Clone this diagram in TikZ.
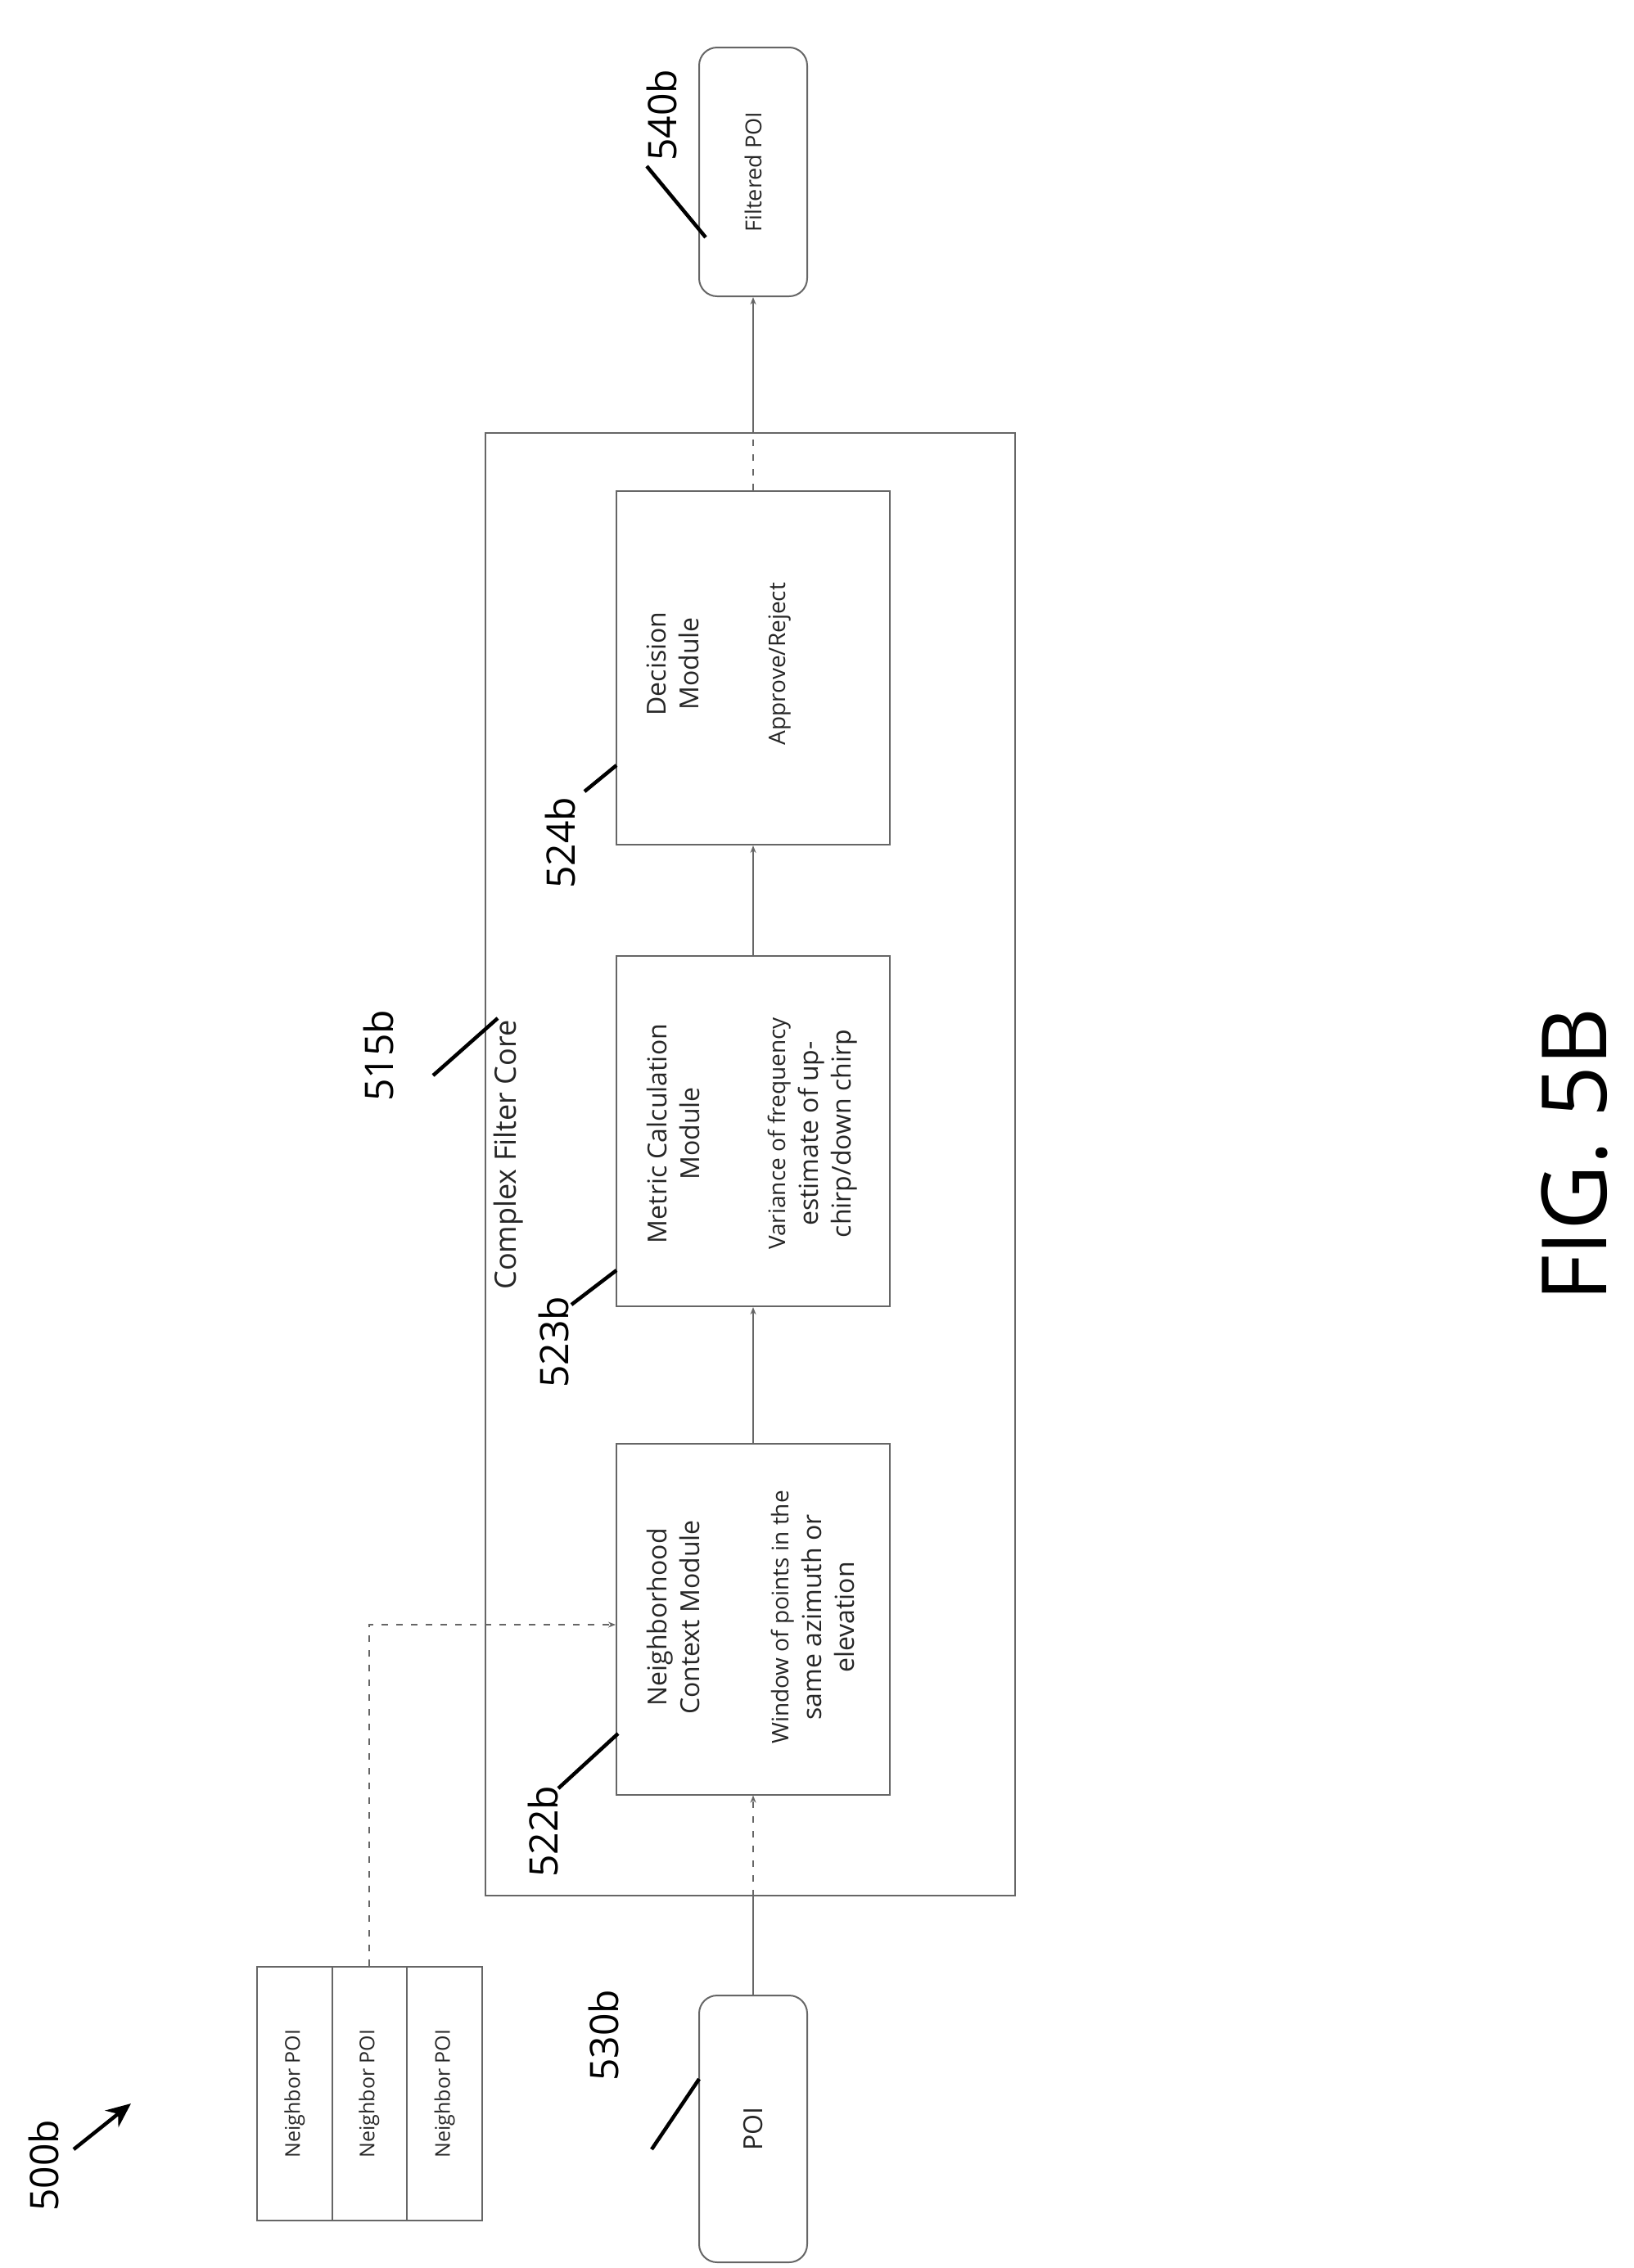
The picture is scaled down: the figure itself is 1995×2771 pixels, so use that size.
\documentclass[tikz,border=0pt]{standalone}
\usepackage{fontspec}
\setmainfont{Open Sans}
\usetikzlibrary{arrows.meta}
\begin{document}
\begin{tikzpicture}[x=1pt,y=-1pt,
  ln/.style={draw=black!60,line width=2pt},
  box/.style={ln,rectangle,inner sep=0pt},
  rbox/.style={ln,rectangle,rounded corners=22pt,inner sep=0pt},
  arr/.style={ln,-{Stealth[length=9pt,width=7pt]}},
  dsh/.style={dash pattern=on 8pt off 10pt},
  txt/.style={rotate=90,align=center,font=\fontsize{32}{40}\selectfont,text=black!85},
  lab/.style={rotate=90,font=\fontsize{48}{52}\selectfont},
  lead/.style={draw=black,line width=4.5pt}]
\useasboundingbox (0,0) rectangle (1995,2771);
% boxes
\node[box,minimum width=647pt,minimum height=1787pt] (core) at (916,1422) {};
\node[box,minimum width=334pt,minimum height=432pt] (dec) at (920,816) {};
\node[box,minimum width=334pt,minimum height=428pt] (met) at (920,1382) {};
\node[box,minimum width=334pt,minimum height=429pt] (nei) at (920,1978) {};
\node[rbox,minimum width=132pt,minimum height=304pt] (fpoi) at (920,210) {};
\node[rbox,minimum width=132pt,minimum height=326pt] (poi) at (920,2601) {};
\node[box,minimum width=92pt,minimum height=310pt] (n1) at (360,2558) {};
\node[box,minimum width=91pt,minimum height=310pt] (n2) at (451,2558) {};
\node[box,minimum width=92pt,minimum height=310pt] (n3) at (543,2558) {};
% texts
\node[txt] (t1) at (n1) {\fontsize{25}{28}\selectfont Neighbor POI};
\node[txt] (t2) at (n2) {\fontsize{25}{28}\selectfont Neighbor POI};
\node[txt] (t3) at (n3) {\fontsize{25}{28}\selectfont Neighbor POI};
\node[txt] (tp) at (poi) {POI};
\node[txt] (tf) at (fpoi) {\fontsize{27}{30}\selectfont Filtered POI};
\node[txt] (td1) at (822,811) {Decision\\Module};
\node[txt] (td2) at (953,811) {\fontsize{28}{30}\selectfont Approve/Reject};
\node[txt] (tm1) at (822,1385) {Metric Calculation\\Module};
\node[txt] (tm2) at (993,1385) {\fontsize{28}{39}\selectfont Variance of frequency\\estimate of up-\\chirp/down chirp};
\node[txt] (tn1) at (822,1976) {Neighborhood\\Context Module};
\node[txt] (tn2) at (993,1976) {\fontsize{28}{39}\selectfont Window of points in the\\same azimuth or\\elevation};
\node[txt,font=\fontsize{36}{40}\selectfont] (tc) at (621,1411) {Complex Filter Core};
% connectors
\coordinate (cb) at (poi.north |- core.south);
\coordinate (ct) at (dec.north |- core.north);
\draw[ln] (poi.north) -- (cb);
\draw[arr,dsh] (cb) -- (nei.south);
\draw[arr] (nei.north) -- (met.south);
\draw[arr] (met.north) -- (dec.south);
\draw[ln,dsh] (dec.north) -- (ct);
\draw[arr] (ct) -- (fpoi.south);
\coordinate (bend) at (n2.north |- 0,1985);
\draw[arr,dsh] (n2.north) -- (bend) -- (bend -| nei.west);
% labels
\node[lab] (l500) at (53,2646) {500b};
\coordinate (a500) at (90,2626);
\coordinate (b500) at (160,2570);
\draw[lead,-{Stealth[length=30pt,width=26pt]}] (a500) -- (b500);
\node[lab] (l530) at (737,2487) {530b};
\coordinate (a530) at (796,2626); \coordinate (b530) at (854,2540);
\draw[lead] (a530) -- (b530);
\node[lab] (l522) at (663,2238) {522b};
\coordinate (a522) at (682,2185); \coordinate (b522) at (755,2118);
\draw[lead] (a522) -- (b522);
\node[lab] (l523) at (676,1640) {523b};
\coordinate (a523) at (698,1594); \coordinate (b523) at (753,1552);
\draw[lead] (a523) -- (b523);
\node[lab] (l524) at (684,1030) {524b};
\coordinate (a524) at (714,967); \coordinate (b524) at (753,935);
\draw[lead] (a524) -- (b524);
\node[lab] (l515) at (462,1290) {515b};
\coordinate (a515) at (529,1314); \coordinate (b515) at (608,1244);
\draw[lead] (a515) -- (b515);
\node[lab] (l540) at (808,141) {540b};
\coordinate (a540) at (790,203); \coordinate (b540) at (862,290);
\draw[lead] (a540) -- (b540);
\node[rotate=90,font=\fontsize{110}{120}\selectfont] (fig) at (1923,1411) {FIG. 5B};
\end{tikzpicture}
\end{document}
